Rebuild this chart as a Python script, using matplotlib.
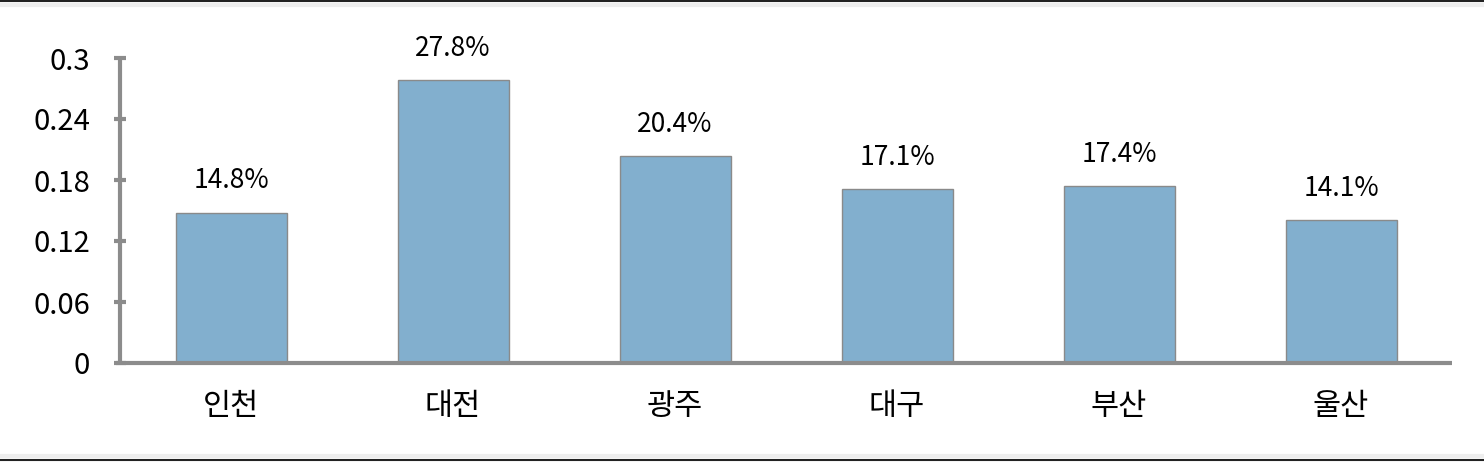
import matplotlib.pyplot as plt
from matplotlib.lines import Line2D

# --- Data ---
regions = ["인천", "대전", "광주", "대구", "부산", "울산"]
shares = [0.148, 0.278, 0.204, 0.171, 0.174, 0.141]
yticks = [0, 0.06, 0.12, 0.18, 0.24, 0.3]
ytick_labels = ["0", "0.06", "0.12", "0.18", "0.24", "0.3"]

plt.rcParams['font.family'] = ['Noto Sans CJK KR', 'DejaVu Sans']

fig = plt.figure(figsize=(14.84, 4.62), dpi=100)
ax = fig.add_axes([120 / 1484, 99 / 462, 1332 / 1484, 305 / 462])

x = range(len(regions))
bars = ax.bar(x, shares, width=0.5, color="#82afce", edgecolor="#8a8a8a", linewidth=1, zorder=2)

for xi, v in zip(x, shares):
    ax.annotate(f"{v * 100:.1f}%", (xi, v), xytext=(0, 13), textcoords="offset points",
                ha="center", va="bottom", fontsize=19)

ax.set_xlim(-0.5, len(regions) - 0.5)
ax.set_ylim(0, 0.3)
ax.set_yticks(yticks)
ax.set_yticklabels(ytick_labels, fontsize=21)
ax.set_xticks(list(x))
ax.set_xticklabels(regions, fontsize=22)

gray = "#8c8c8c"
for side in ["top", "right"]:
    ax.spines[side].set_visible(False)
for side in ["left", "bottom"]:
    ax.spines[side].set_color(gray)
    ax.spines[side].set_linewidth(3)
    ax.spines[side].set_capstyle("butt")
ax.spines["bottom"].set_bounds(-0.52, len(regions) - 0.5)
ax.tick_params(axis="y", direction="inout", length=9, width=3, color=gray, pad=17)
ax.tick_params(axis="x", length=0, pad=20)

# frame lines at top and bottom of the image
fig.add_artist(Line2D([0, 1], [0.998, 0.998], color="#222222", lw=1.5, transform=fig.transFigure))
fig.add_artist(Line2D([0, 1], [0.99, 0.99], color="#eeeeee", lw=3, transform=fig.transFigure))
fig.add_artist(Line2D([0, 1], [0.004, 0.004], color="#222222", lw=1.5, transform=fig.transFigure))
fig.add_artist(Line2D([0, 1], [0.012, 0.012], color="#eeeeee", lw=3, transform=fig.transFigure))

fig.savefig("out.png", dpi=100)
